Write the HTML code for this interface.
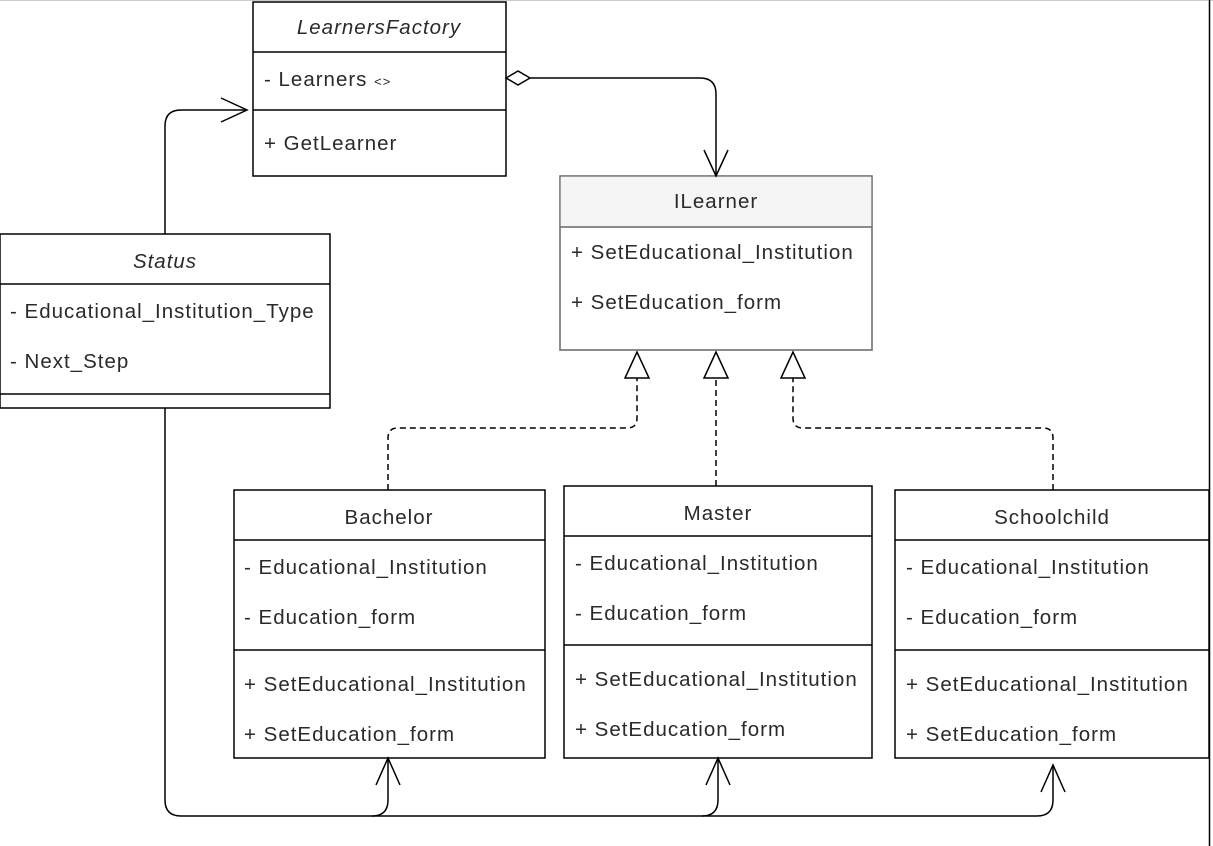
<!DOCTYPE html>
<html><head><meta charset="utf-8"><style>
html,body{margin:0;padding:0;background:#fff;}
svg{display:block;}
text{font-family:"Liberation Sans",Arial,sans-serif;font-size:20.5px;letter-spacing:1px;fill:#2a2a2a;}
</style></head><body>
<svg width="1213" height="846" viewBox="0 0 1213 846" xmlns="http://www.w3.org/2000/svg">
<line x1="0" y1="0.5" x2="1213" y2="0.5" stroke="#ccc"/>
<line x1="1209.5" y1="0" x2="1209.5" y2="846" stroke="#000" stroke-width="1.5"/>
<g fill="#fff" stroke="#000" stroke-width="1.5">
<rect x="253" y="2" width="253" height="174"/>
<line x1="253" y1="52" x2="506" y2="52"/><line x1="253" y1="110" x2="506" y2="110"/>
<rect x="0" y="234" width="330" height="174"/>
<line x1="0" y1="284" x2="330" y2="284"/><line x1="0" y1="394" x2="330" y2="394"/>
<rect x="560" y="176" width="312" height="174" stroke="#666"/>
<rect x="560.75" y="176.75" width="310.5" height="50" fill="#f5f5f5" stroke="none"/>
<line x1="560" y1="227" x2="872" y2="227" stroke="#666"/>
<rect x="234" y="490" width="311" height="268"/>
<line x1="234" y1="540" x2="545" y2="540"/><line x1="234" y1="650" x2="545" y2="650"/>
<rect x="564" y="486" width="308" height="272"/>
<line x1="564" y1="536" x2="872" y2="536"/><line x1="564" y1="645" x2="872" y2="645"/>
<rect x="895" y="490" width="314" height="268"/>
<line x1="895" y1="540" x2="1209" y2="540"/><line x1="895" y1="650" x2="1209" y2="650"/>
</g>
<text x="379" y="34" text-anchor="middle" font-style="italic" fill="#333">LearnersFactory</text>
<text x="264" y="86">- Learners <tspan font-size="13">&lt;&gt;</tspan></text>
<text x="264" y="150">+ GetLearner</text>
<text x="165" y="268" text-anchor="middle" font-style="italic">Status</text>
<text x="10" y="318">- Educational_Institution_Type</text>
<text x="10" y="368">- Next_Step</text>
<text x="716" y="208" text-anchor="middle">ILearner</text>
<text x="571" y="259">+ SetEducational_Institution</text>
<text x="571" y="309">+ SetEducation_form</text>
<text x="389" y="524" text-anchor="middle">Bachelor</text>
<text x="244" y="574">- Educational_Institution</text>
<text x="244" y="624">- Education_form</text>
<text x="244" y="691">+ SetEducational_Institution</text>
<text x="244" y="741">+ SetEducation_form</text>
<text x="718" y="520" text-anchor="middle">Master</text>
<text x="575" y="570">- Educational_Institution</text>
<text x="575" y="620">- Education_form</text>
<text x="575" y="686">+ SetEducational_Institution</text>
<text x="575" y="736">+ SetEducation_form</text>
<text x="1052" y="524" text-anchor="middle">Schoolchild</text>
<text x="906" y="574">- Educational_Institution</text>
<text x="906" y="624">- Education_form</text>
<text x="906" y="691">+ SetEducational_Institution</text>
<text x="906" y="741">+ SetEducation_form</text>
<g fill="none" stroke="#000" stroke-width="1.5">
<path d="M165 234 V126 Q165 110 181 110 H247"/>
<path d="M221 98 L247 110 L221 122"/>
<path d="M506 78 L518 71 L530 78 L518 85 Z" fill="#fff"/>
<path d="M530 78 H700 Q716 78 716 94 V176"/>
<path d="M704 150 L716 176 L728 150"/>
<path d="M165 408 V800 Q165 816 181 816 H1037 Q1053 816 1053 800 V765"/>
<path d="M372 816 Q388 816 388 800 V758"/>
<path d="M702 816 Q718 816 718 800 V758"/>
<path d="M376 785 L388 758 L400 785"/>
<path d="M706 785 L718 758 L730 785"/>
<path d="M1041 792 L1053 765 L1065 792"/>
<g stroke-dasharray="6,4">
<path d="M388 490 V438 Q388 428 398 428 H627 Q637 428 637 418 V378"/>
<path d="M716 486 V378"/>
<path d="M1053 490 V438 Q1053 428 1043 428 H803 Q793 428 793 418 V378"/>
</g>
<path d="M637 352 L625 378 H649 Z" fill="#fff"/>
<path d="M716 352 L704 378 H728 Z" fill="#fff"/>
<path d="M793 352 L781 378 H805 Z" fill="#fff"/>
</g>
</svg>
</body></html>
